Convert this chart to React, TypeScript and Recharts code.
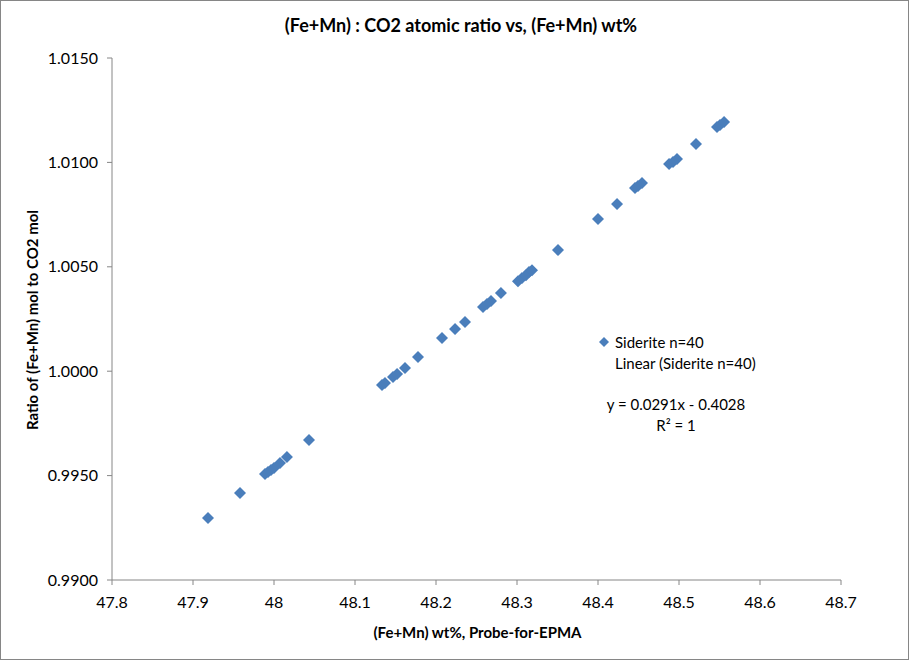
import React from 'react'
import { ScatterChart, Scatter, XAxis, YAxis } from 'recharts'

// (Fe+Mn) wt%
const wtPct = [
  47.9185, 47.958, 47.9889, 47.9926, 47.9963, 48.0, 48.0074, 48.016, 48.0432,
  48.1333, 48.137, 48.1469, 48.1519, 48.1617, 48.1778, 48.2074, 48.2235, 48.2358,
  48.258, 48.263, 48.2679, 48.2802, 48.3012, 48.3062, 48.3111, 48.3148, 48.3185,
  48.3506, 48.4, 48.4235, 48.4457, 48.4494, 48.4543, 48.4877, 48.4926, 48.4975,
  48.521, 48.5469, 48.5506, 48.5556
]

// (Fe+Mn) : CO2 atomic ratio
const ratio = [
  0.99297, 0.99417, 0.99508, 0.99517, 0.99527, 0.99536, 0.9956, 0.99589, 0.9967,
  0.99934, 0.99943, 0.99972, 0.99987, 1.00015, 1.00068, 1.00159, 1.00202, 1.00236,
  1.00307, 1.00322, 1.00336, 1.00374, 1.00431, 1.00446, 1.0046, 1.00475, 1.00484,
  1.0058, 1.00729, 1.00801, 1.00877, 1.00887, 1.00901, 1.00992, 1.01002, 1.01016,
  1.01088, 1.01169, 1.01179, 1.01193
]

const xTicks = [47.8, 47.9, 48, 48.1, 48.2, 48.3, 48.4, 48.5, 48.6, 48.7]
const yTicks = [0.99, 0.995, 1.0, 1.005, 1.01, 1.015]

const data = wtPct.map((x, i) => ({ x, y: ratio[i] }))

const BLUE = '#4a7ebb'
const AXIS = '#868686'
const FONT = 'Lato, "Open Sans", sans-serif'

const Diamond = (props: any) => {
  const { cx, cy } = props
  const r = 6
  return (
    <polygon
      points={`${cx},${cy - r} ${cx + r},${cy} ${cx},${cy + r} ${cx - r},${cy}`}
      fill={BLUE}
    />
  )
}

const xLabel = (v: number) => String(Math.round(v * 10) / 10)

export default function App() {
  return (
    <div
      style={{
        position: 'absolute',
        left: 0,
        top: 0,
        width: 909,
        height: 660,
        border: `1px solid ${AXIS}`,
        boxSizing: 'border-box',
        background: '#fff',
        fontFamily: FONT,
        color: '#000'
      }}
    >
      <ScatterChart
        width={907}
        height={658}
        margin={{ top: 57, right: 67, bottom: 30, left: 41 }}
      >
        <XAxis
          type="number"
          dataKey="x"
          domain={[47.8, 48.7]}
          ticks={xTicks}
          tickFormatter={xLabel}
          allowDataOverflow
          height={49}
          tickSize={5}
          stroke={AXIS}
          tick={{ fill: '#000', fontSize: 16, fontFamily: FONT }}
          tickMargin={12}
        />
        <YAxis
          type="number"
          dataKey="y"
          domain={[0.99, 1.015]}
          ticks={yTicks}
          tickFormatter={(v: number) => v.toFixed(4)}
          allowDataOverflow
          width={70}
          tickSize={5}
          stroke={AXIS}
          tick={{ fill: '#000', fontSize: 16, fontFamily: FONT }}
          tickMargin={9}
        />
        <Scatter data={data} fill={BLUE} shape={<Diamond />} isAnimationActive={false} />
      </ScatterChart>

      <div
        style={{
          position: 'absolute',
          top: 13,
          left: 0,
          width: 920,
          textAlign: 'center',
          fontSize: 18,
          fontWeight: 'bold'
        }}
      >
        (Fe+Mn) : CO2 atomic ratio vs, (Fe+Mn) wt%
      </div>

      <div
        style={{
          position: 'absolute',
          top: 622,
          left: 112,
          width: 729,
          textAlign: 'center',
          fontSize: 15,
          fontWeight: 'bold'
        }}
      >
        (Fe+Mn) wt%, Probe-for-EPMA
      </div>

      <div
        style={{
          position: 'absolute',
          left: 31 - 200,
          top: 319 - 10,
          width: 400,
          height: 20,
          lineHeight: '20px',
          textAlign: 'center',
          fontSize: 15,
          fontWeight: 'bold',
          transform: 'rotate(-90deg)'
        }}
      >
        Ratio of (Fe+Mn) mol to CO2 mol
      </div>

      <svg
        style={{ position: 'absolute', left: 0, top: 0 }}
        width={907}
        height={658}
      >
        <polygon points="603,336 608,341 603,346 598,341" fill={BLUE} />
      </svg>
      <div
        style={{
          position: 'absolute',
          left: 614,
          top: 331,
          fontSize: 15,
          lineHeight: '21px'
        }}
      >
        <div>Siderite n=40</div>
        <div>Linear (Siderite n=40)</div>
      </div>
      <div
        style={{
          position: 'absolute',
          left: 575,
          top: 393,
          width: 200,
          textAlign: 'center',
          fontSize: 15,
          lineHeight: '21px'
        }}
      >
        <div>y = 0.0291x - 0.4028</div>
        <div>R² = 1</div>
      </div>
    </div>
  )
}
